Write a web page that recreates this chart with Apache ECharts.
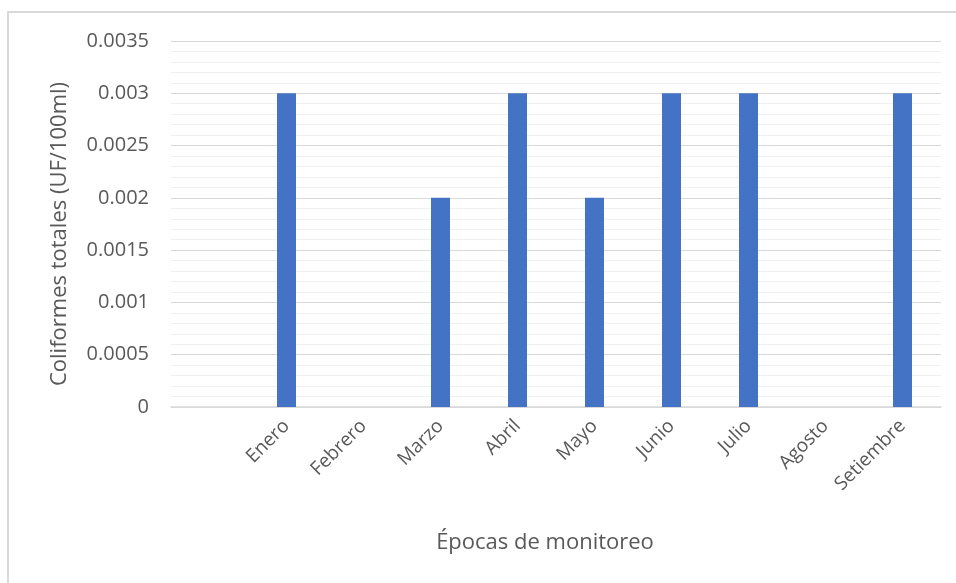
<!DOCTYPE html>
<html>
<head>
<meta charset="utf-8">
<script src="https://cdn.jsdelivr.net/npm/echarts@6/dist/echarts.min.js"></script>
<style>
  html, body { margin: 0; padding: 0; background: #fff; }
  .frame {
    position: absolute; left: 7px; top: 11px; width: 949px; height: 572px;
    border-top: 2px solid #d9d9d9; border-left: 2px solid #d9d9d9;
  }
  #chart { position: absolute; left: 0; top: 0; width: 956px; height: 583px; }
</style>
</head>
<body>
<div class="frame"></div>
<div id="chart"></div>
<script>
// first slot is blank in the original chart
var categories = ['', 'Enero', 'Febrero', 'Marzo', 'Abril', 'Mayo', 'Junio', 'Julio', 'Agosto', 'Setiembre'];
var coliformes = [0, 0.003, 0, 0.002, 0.003, 0.002, 0.003, 0.003, 0, 0.003];

var font = '"Open Sans", "Noto Sans", sans-serif';
var chart = echarts.init(document.getElementById('chart'));

chart.setOption({
  animation: false,
  grid: { left: 171, right: 15, top: 41, bottom: 176 },
  xAxis: {
    type: 'category',
    data: categories,
    name: 'Épocas de monitoreo',
    nameLocation: 'middle',
    nameGap: 125,
    nameTextStyle: { color: '#595959', fontSize: 22, fontFamily: font, padding: [0, 0, 0, -22] },
    axisLine: { lineStyle: { color: '#d9d9d9', width: 1.5 } },
    axisTick: { show: false },
    axisLabel: {
      rotate: 45, interval: 0, margin: 16,
      color: '#595959', fontSize: 19, fontFamily: font
    }
  },
  yAxis: {
    type: 'value',
    min: 0, max: 0.0035, interval: 0.0005,
    name: 'Coliformes totales (UF/100ml)',
    nameLocation: 'middle',
    nameGap: 100,
    nameTextStyle: { color: '#595959', fontSize: 22, fontFamily: font, padding: [0, 20, 0, 0] },
    axisLine: { show: false },
    axisTick: { show: false },
    axisLabel: { color: '#595959', fontSize: 20, fontFamily: font, margin: 22 },
    splitLine: { lineStyle: { color: '#d9d9d9', width: 1 } },
    minorTick: { show: false, splitNumber: 5 },
    minorSplitLine: { show: true, lineStyle: { color: '#f0f0f0', width: 1 } }
  },
  series: [{
    type: 'bar',
    data: coliformes,
    barWidth: 19,
    itemStyle: { color: '#4472c4' }
  }]
});
</script>
</body>
</html>
